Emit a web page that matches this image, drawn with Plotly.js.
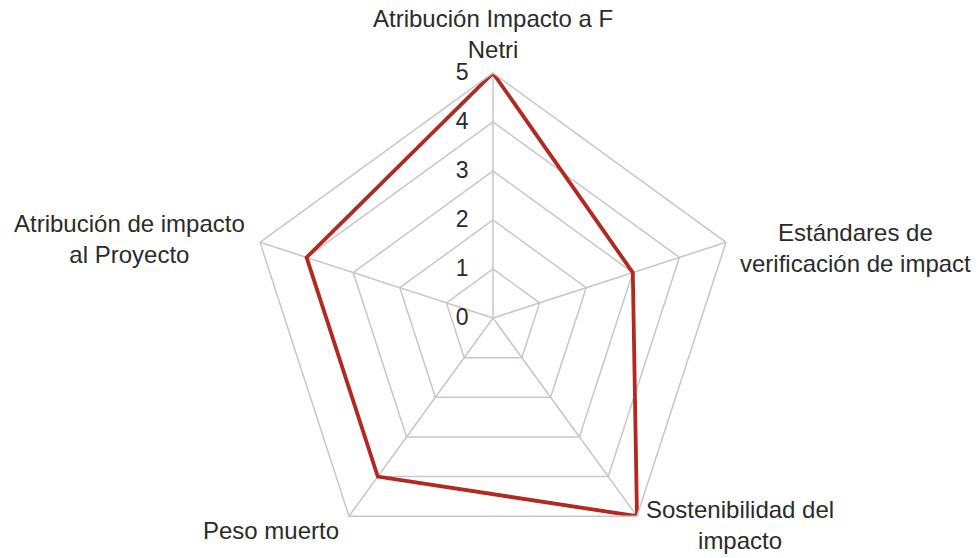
<!DOCTYPE html>
<html>
<head>
<meta charset="utf-8">
<script src="https://cdn.plot.ly/plotly-3.0.1.min.js"></script>
<style>
html, body { margin: 0; padding: 0; width: 978px; height: 558px; overflow: hidden; background: #fff; }
#chart { width: 978px; height: 640px; }
</style>
</head>
<body>
<div id="chart"></div>
<script>
// Data
const categories = [
  "Atribución Impacto a F<br>Netri",
  "Estándares de<br>verificación de impact",
  "Sostenibilidad del<br>impacto",
  "Peso muerto",
  "Atribución de impacto<br>al Proyecto"
];
const values = [5, 3, 5, 4, 4];
const radialTicks = [0, 1, 2, 3, 4, 5];

// Layout helpers (label placement in pixels of the 978x640 figure)
const W = 978, H = 640;
const labelPos = [
  [493, 34],
  [855, 248],
  [740, 525],
  [271, 530],
  [129, 239]
];

const thetaIdx = categories.map((c, i) => "c" + i);
const trace = {
  type: "scatterpolar",
  mode: "lines",
  r: values.concat([values[0]]),
  theta: thetaIdx.concat([thetaIdx[0]]),
  line: { color: "#b3281f", width: 3.8 },
  hoverinfo: "skip",
  showlegend: false
};

const annotations = categories.map((c, i) => ({
  text: c,
  xref: "paper", yref: "paper",
  x: labelPos[i][0] / W,
  y: 1 - labelPos[i][1] / H,
  xanchor: "center", yanchor: "middle",
  align: "center",
  showarrow: false,
  font: { family: "Liberation Sans, Arial, sans-serif", size: 24, color: "#2b2b2b" }
}));

const cx = 493, cy = 318, R = 245;
const layout = {
  width: W, height: H,
  margin: { l: 0, r: 0, t: 0, b: 0 },
  paper_bgcolor: "#ffffff",
  showlegend: false,
  polar: {
    domain: { x: [(cx - R) / W, (cx + R) / W], y: [1 - (cy + R) / H, 1 - (cy - R) / H] },
    bgcolor: "#ffffff",
    gridshape: "linear",
    radialaxis: {
      range: [0, 5],
      angle: 90,
      side: "counterclockwise",
      tickangle: 90,
      tickvals: radialTicks,
      ticktext: radialTicks.map(String),
      ticks: "outside",
      ticklen: 16,
      tickcolor: "rgba(0,0,0,0)",
      showline: false,
      gridcolor: "#cbc5c5",
      gridwidth: 1.5,
      tickfont: { family: "Liberation Sans, Arial, sans-serif", size: 23, color: "#2b2b2b" }
    },
    angularaxis: {
      type: "category",
      categoryarray: thetaIdx,
      rotation: 90,
      direction: "clockwise",
      showticklabels: false,
      ticks: "",
      showline: true,
      linecolor: "#cbc5c5",
      linewidth: 1.5,
      gridcolor: "#cbc5c5",
      gridwidth: 1.5
    }
  },
  annotations: annotations
};

Plotly.newPlot("chart", [trace], layout, { displayModeBar: false, staticPlot: true });
</script>
</body>
</html>
